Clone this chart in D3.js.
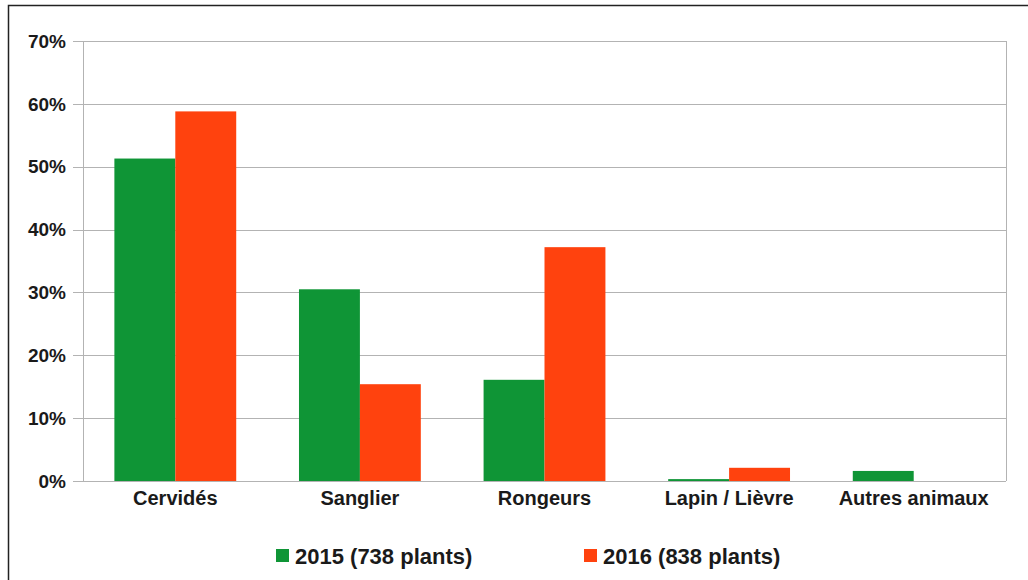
<!DOCTYPE html>
<html><head><meta charset="utf-8">
<script src="https://cdn.jsdelivr.net/npm/d3@7/dist/d3.min.js"></script>
<style>html,body{margin:0;padding:0;background:#fff;}svg{display:block;}</style>
</head><body>
<svg id="chart" width="1028" height="580"></svg>
<script>
const categories = ["Cervidés", "Sanglier", "Rongeurs", "Lapin / Lièvre", "Autres animaux"];
const series2015 = [51.3, 30.5, 16.1, 0.3, 1.6];
const series2016 = [58.8, 15.4, 37.2, 2.1, 0];
const seriesNames = ["2015 (738 plants)", "2016 (838 plants)"];
const seriesColors = ["#0f9536", "#ff420e"];
const yTicks = [0, 10, 20, 30, 40, 50, 60, 70];

(function () {
const svg = d3.select("#chart");
const font = "'Liberation Sans', Arial, sans-serif";
const txt = "#1a1a1a";

// outer frame
svg.append("rect").attr("x", 8.5).attr("y", 5.5).attr("width", 1100).attr("height", 700)
  .attr("fill", "none").attr("stroke", "#222").attr("stroke-width", 1.5);

const pLeft = 83, pRight = 1006, pTop = 41, pBottom = 481;
const x = d3.scaleBand().domain(categories).range([pLeft, pRight]).paddingInner(0.34).paddingOuter(0.17);
const xs = d3.scaleBand().domain([0, 1]).range([0, x.bandwidth()]);
const y = d3.scaleLinear().domain([0, 70]).range([pBottom, pTop]);

// gridlines
svg.append("g").selectAll("line").data(yTicks).join("line")
  .attr("x1", pLeft - 10).attr("x2", pRight)
  .attr("y1", d => Math.round(y(d)) + 0.5).attr("y2", d => Math.round(y(d)) + 0.5)
  .attr("stroke", "#b3b3b3").attr("stroke-width", 1);
svg.append("line").attr("x1", pLeft + 0.5).attr("x2", pLeft + 0.5).attr("y1", pTop).attr("y2", pBottom)
  .attr("stroke", "#b3b3b3");
svg.append("line").attr("x1", pRight + 0.5).attr("x2", pRight + 0.5).attr("y1", pTop).attr("y2", pBottom)
  .attr("stroke", "#b3b3b3");

// y axis labels
svg.append("g").selectAll("text").data(yTicks).join("text")
  .attr("x", 66).attr("y", d => y(d)).attr("dy", "0.35em")
  .attr("text-anchor", "end").attr("font-family", font).attr("font-weight", "bold")
  .attr("font-size", 19).attr("fill", txt).text(d => d + "%");

// bars
const allSeries = [series2015, series2016];
allSeries.forEach((vals, si) => {
  svg.append("g").selectAll("rect").data(vals).join("rect")
    .attr("x", (d, i) => x(categories[i]) + xs(si))
    .attr("width", xs.bandwidth())
    .attr("y", d => y(d))
    .attr("height", d => y(0) - y(d))
    .attr("fill", seriesColors[si]);
});

// x labels
svg.append("g").selectAll("text").data(categories).join("text")
  .attr("x", d => x(d) + x.bandwidth() / 2).attr("y", 505)
  .attr("text-anchor", "middle").attr("font-family", font).attr("font-weight", "bold")
  .attr("font-size", 20).attr("fill", txt).text(d => d);

// legend
const legendX = [276, 584];
seriesNames.forEach((n, i) => {
  svg.append("rect").attr("x", legendX[i]).attr("y", 549).attr("width", 13).attr("height", 13)
    .attr("fill", seriesColors[i]);
  svg.append("text").attr("x", legendX[i] + 19).attr("y", 564)
    .attr("font-family", font).attr("font-weight", "bold").attr("font-size", 22)
    .attr("fill", txt).text(n);
});
})();
</script>
</body></html>
